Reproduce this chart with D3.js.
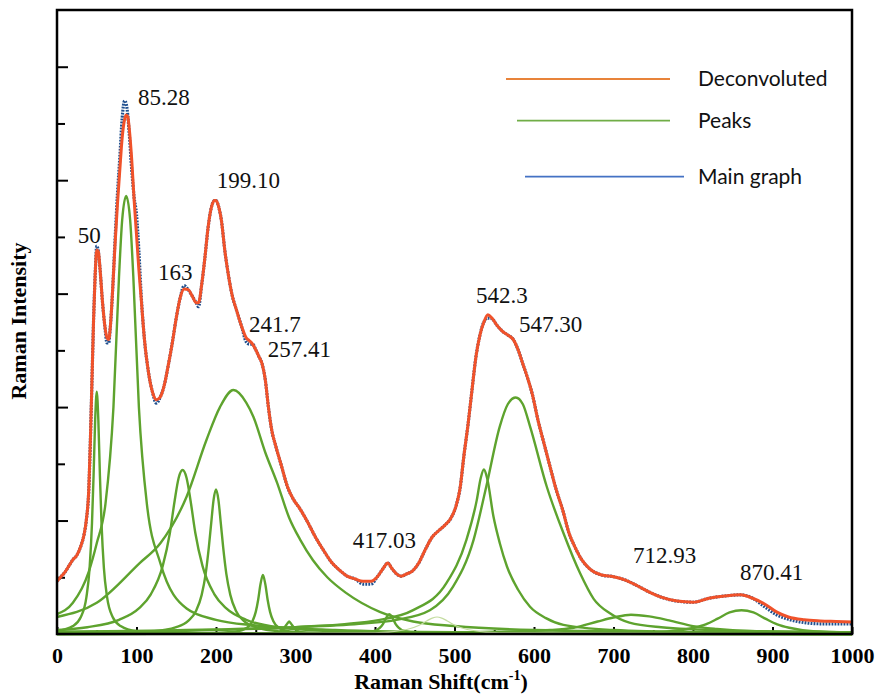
<!DOCTYPE html>
<meta charset="utf-8">
<script src="https://d3js.org/d3.v7.min.js"></script>
<style>
  body { margin: 0; background: #fff; }
  svg text { font-family: "Liberation Serif", "DejaVu Serif", serif; }
  .peak { fill: none; stroke: #5ea32e; stroke-width: 2.4; }
  .label { font-size: 23px; fill: #111; }
  .legend text { font-family: Lato, sans-serif; font-size: 21px; fill: #111; }
</style>
<div id="my_dataviz"></div>
<script>
// Raman shift grid (cm-1) shared by the measured and fitted spectra
var shift = [0,5,10,15,20,25,30,34,37,40,42,44,46,48,50,52,54,57,60,63,
  65,67,70,73,76,79,82,85,87,89,91,94,97,100,103,106,110,115,120,125,
  130,135,140,145,150,155,160,165,170,175,178,182,186,190,194,198,200,203,207,211,
  215,220,226,232,238,242,246,250,254,258,262,266,270,275,282,290,298,305,315,325,
  335,345,355,365,375,385,395,403,410,416,421,427,433,440,447,455,463,472,480,488,
  495,502,507,512,517,522,527,532,537,542,547,553,560,567,574,580,586,592,598,605,
  612,620,628,636,644,652,660,670,685,700,715,730,745,760,780,800,820,840,860,875,
  890,905,920,940,960,980,1000];

// fitted (deconvoluted) envelope
var deconvoluted = [0.93,1.01,1.09,1.20,1.31,1.39,1.55,1.75,2.02,2.55,
  3.42,4.48,5.54,6.33,6.77,6.74,6.46,5.89,5.45,5.22,
  5.19,5.40,6.07,6.86,7.57,8.18,8.75,9.07,9.15,9.12,
  8.89,8.36,7.65,7.04,6.42,5.89,5.19,4.62,4.27,4.13,
  4.18,4.39,4.74,5.13,5.57,5.93,6.08,6.07,5.96,5.84,
  5.84,6.16,6.63,7.16,7.51,7.64,7.64,7.55,7.27,6.77,
  6.38,5.99,5.70,5.43,5.22,5.17,5.11,5.01,4.89,4.76,
  4.48,3.99,3.60,3.32,2.98,2.59,2.36,2.22,1.98,1.71,
  1.48,1.27,1.13,1.02,0.97,0.93,0.93,1.01,1.15,1.25,
  1.16,1.06,1.02,1.06,1.11,1.25,1.48,1.71,1.82,1.92,
  2.03,2.26,2.57,3.16,3.69,4.30,4.89,5.27,5.50,5.63,
  5.57,5.45,5.34,5.27,5.19,5.01,4.76,4.51,4.22,3.77,
  3.39,2.96,2.54,2.19,1.78,1.52,1.31,1.15,1.04,1.01,
  0.95,0.85,0.74,0.65,0.58,0.56,0.63,0.67,0.69,0.63,
  0.53,0.39,0.30,0.25,0.23,0.22,0.21];

// measured spectrum
var mainGraph = [0.93,1.01,1.09,1.20,1.31,1.39,1.55,1.75,2.02,2.55,
  3.42,4.48,5.54,6.33,6.84,6.74,6.46,5.89,5.45,5.13,
  5.13,5.40,6.07,6.95,7.75,8.40,9.10,9.40,9.35,9.15,
  8.80,8.18,7.70,7.40,6.75,5.95,5.19,4.62,4.27,4.07,
  4.18,4.39,4.74,5.13,5.57,5.93,6.14,6.07,5.96,5.84,
  5.77,6.16,6.63,7.16,7.51,7.64,7.64,7.55,7.27,6.77,
  6.38,5.99,5.70,5.43,5.15,5.11,5.11,5.01,4.89,4.76,
  4.48,3.99,3.60,3.32,2.98,2.59,2.36,2.22,1.98,1.71,
  1.48,1.27,1.13,1.02,0.97,0.88,0.88,1.01,1.15,1.25,
  1.16,1.06,1.02,1.06,1.11,1.25,1.48,1.71,1.82,1.92,
  2.03,2.26,2.57,3.16,3.69,4.30,4.89,5.27,5.50,5.57,
  5.56,5.45,5.34,5.27,5.19,5.01,4.76,4.51,4.22,3.77,
  3.39,2.96,2.54,2.19,1.78,1.52,1.31,1.15,1.04,1.01,
  0.95,0.85,0.74,0.65,0.58,0.56,0.63,0.67,0.69,0.63,
  0.48,0.34,0.26,0.20,0.18,0.18,0.18];

// individual fitted peaks, [shift, intensity]
var peak50 = [[0,0.05],[20,0.14],[30,0.30],[37,0.65],[41,1.16],[44,1.95],[46,2.79],[48,3.77],[50,4.27],[52,3.77],[54,2.79],[56,1.95],[59,1.16],[63,0.65],[70,0.30],[80,0.14],[100,0.05],[150,0.015],[300,0.004],[1000,0]];
var peak85 = [[0,0.35],[20,0.55],[40,1.1],[50,1.6],[61,2.3],[71,4.0],[78,6.3],[82,7.3],[87,7.72],[92,7.3],[96,6.3],[103,4.0],[113,2.3],[130,1.25],[163,0.45],[200,0.25],[250,0.15],[350,0.07],[500,0.03],[1000,0.005]];
var peak158 = [[0,0.07],[38,0.12],[78,0.25],[103,0.45],[118,0.7],[133,1.2],[142,1.78],[148,2.35],[153,2.75],[158,2.89],[163,2.75],[168,2.35],[174,1.78],[183,1.2],[198,0.7],[213,0.45],[238,0.25],[278,0.12],[358,0.05],[600,0.01],[1000,0]];
var peak200 = [[0,0.008],[50,0.014],[120,0.047],[150,0.12],[165,0.23],[175,0.41],[182,0.69],[187,1.06],[191,1.53],[194,1.96],[197,2.37],[200,2.55],[203,2.37],[206,1.96],[209,1.53],[213,1.06],[218,0.69],[225,0.41],[235,0.23],[250,0.12],[280,0.047],[350,0.014],[1000,0]];
var peak222 = [[0,0.3],[50,0.55],[104,1.25],[130,1.6],[163,2.42],[188,3.42],[205,4.0],[222,4.30],[238,4.08],[247,3.83],[262,3.2],[277,2.66],[292,2.05],[306,1.66],[322,1.3],[340,1.0],[364,0.72],[406,0.39],[448,0.22],[500,0.14],[600,0.07],[800,0.03],[1000,0.02]];
var peak259 = [[0,0.005],[180,0.008],[224,0.04],[239,0.11],[246,0.23],[250,0.39],[253,0.6],[256,0.88],[259,1.04],[262,0.88],[265,0.6],[268,0.39],[272,0.23],[279,0.11],[294,0.04],[340,0.008],[1000,0]];
var peak292 = [[0,0],[270,0.01],[280,0.04],[286,0.11],[290,0.19],[292,0.22],[294,0.19],[298,0.11],[304,0.04],[315,0.01],[1000,0]];
var peak418 = [[0,0],[378,0.013],[398,0.048],[406,0.108],[410,0.175],[414,0.28],[418,0.35],[422,0.28],[426,0.175],[430,0.108],[438,0.048],[458,0.013],[1000,0]];
var peak478 = [[0,0],[400,0.02],[440,0.08],[455,0.15],[465,0.23],[472,0.28],[478,0.30],[484,0.28],[491,0.23],[501,0.15],[516,0.08],[556,0.02],[1000,0]];
var peak537 = [[0,0.03],[200,0.07],[300,0.12],[406,0.25],[448,0.42],[490,0.9],[515,1.66],[528,2.36],[533,2.75],[537,2.90],[541,2.75],[549,2.07],[557,1.6],[566,1.19],[580,0.78],[595,0.48],[615,0.28],[637,0.16],[700,0.07],[800,0.03],[1000,0.01]];
var peak577 = [[0,0.04],[200,0.08],[300,0.12],[380,0.18],[427,0.25],[469,0.42],[498,0.83],[524,1.66],[540,2.6],[557,3.66],[567,4.05],[577,4.17],[586,4.05],[595,3.66],[616,2.6],[637,1.78],[658,1.07],[675,0.62],[696,0.36],[720,0.2],[760,0.12],[850,0.06],[1000,0.03]];
var peak722 = [[0,0.01],[400,0.02],[550,0.04],[620,0.07],[650,0.11],[680,0.22],[700,0.29],[722,0.34],[745,0.31],[770,0.24],[800,0.14],[830,0.09],[880,0.05],[1000,0.03]];
var peak861 = [[0,0],[600,0.01],[721,0.02],[771,0.05],[801,0.11],[816,0.17],[831,0.27],[846,0.38],[861,0.42],[876,0.38],[891,0.27],[906,0.17],[921,0.11],[951,0.05],[1000,0.03]];

var peaks = [peak50, peak85, peak158, peak200, peak222, peak259, peak292, peak418, peak537, peak577, peak722, peak861];

var peakLabels = ["50", "85.28", "163", "199.10", "241.7", "257.41", "417.03", "542.3", "547.30", "712.93", "870.41"];
var legendNames = ["Deconvoluted", "Peaks", "Main graph"];
var xTicks = [0, 100, 200, 300, 400, 500, 600, 700, 800, 900, 1000];

// set the dimensions and margins of the graph
var margin = {top: 10, right: 28, bottom: 62, left: 57},
    width = 880 - margin.left - margin.right,
    height = 696 - margin.top - margin.bottom;

var svg = d3.select("#my_dataviz")
  .append("svg")
  .attr("width", 880)
  .attr("height", 696)
  .append("g")
  .attr("transform", "translate(" + margin.left + "," + margin.top + ")");

var x = d3.scaleLinear().domain([0, 1000]).range([0, width]);
var y = d3.scaleLinear().domain([0, 11]).range([height, 0]);

var serif = "Liberation Serif";

// x axis: major ticks with labels, minor ticks at the 50s
var xAxis = svg.append("g")
  .attr("transform", "translate(0," + height + ")")
  .call(d3.axisBottom(x).tickValues(xTicks).tickSize(-7).tickPadding(13.5).tickFormat(d3.format("d")));
xAxis.attr("font-family", serif).attr("font-size", 22);
xAxis.selectAll("text")
  .style("font-family", serif)
  .style("font-size", "22px")
  .style("font-weight", "bold")
  .attr("fill", "#000");

svg.append("g")
  .attr("transform", "translate(0," + height + ")")
  .call(d3.axisBottom(x).tickValues(d3.range(50, 1000, 100)).tickSize(-4).tickFormat(""));

// y axis: no labels, long and short ticks alternating
svg.append("g")
  .call(d3.axisLeft(y).tickValues([2, 4, 6, 8, 10]).tickSize(-11).tickFormat(""));
svg.append("g")
  .call(d3.axisLeft(y).tickValues([1, 3, 5, 7, 9]).tickSize(-8).tickFormat(""));

svg.selectAll(".domain").remove();
svg.selectAll(".tick line").attr("stroke", "#000").attr("stroke-width", 2);

var line = d3.line()
  .x(d => x(d[0]))
  .y(d => y(d[1]))
  .curve(d3.curveMonotoneX);

// peaks
svg.append("g")
  .selectAll("path")
  .data(peaks)
  .enter()
  .append("path")
  .attr("class", "peak")
  .attr("d", line);

// faint extra component near 478
svg.append("path")
  .datum(peak478)
  .attr("fill", "none")
  .attr("stroke", "#c4dca0")
  .attr("stroke-width", 1.2)
  .attr("d", line);

// measured spectrum, dotted blue
svg.append("path")
  .datum(shift.map((s, i) => [s, mainGraph[i]]))
  .attr("fill", "none")
  .attr("stroke", "#1f4f8e")
  .attr("stroke-width", 3.2)
  .attr("stroke-dasharray", "1.8,1.2")
  .attr("d", line);

// deconvoluted envelope
svg.append("path")
  .datum(shift.map((s, i) => [s, deconvoluted[i]]))
  .attr("fill", "none")
  .attr("stroke", "#f0522a")
  .attr("stroke-width", 3)
  .attr("d", line);

// frame
svg.append("rect")
  .attr("width", width)
  .attr("height", height)
  .attr("fill", "none")
  .attr("stroke", "#000")
  .attr("stroke-width", 2.5);

// peak labels (left/baseline in data units)
var labelPos = [[26, 6.90], [102, 9.33], [127, 6.24], [201, 7.87], [241.5, 5.33], [265, 4.89],
                [372, 1.52], [527, 5.84], [581, 5.33], [724.5, 1.25], [859, 0.95]];
svg.selectAll(".label")
  .data(peakLabels)
  .enter()
  .append("text")
  .attr("class", "label")
  .attr("font-family", serif)
  .style("font-family", serif)
  .attr("x", (d, i) => x(labelPos[i][0]))
  .attr("y", (d, i) => y(labelPos[i][1]))
  .text(d => d);

// axis titles
var xt = svg.append("text")
  .attr("x", 384)
  .attr("y", height + 55)
  .attr("text-anchor", "middle")
  .style("font-family", serif)
  .style("font-size", "22px")
  .style("font-weight", "bold")
  .text("Raman Shift(cm");
xt.append("tspan").attr("dy", -9).style("font-size", "14px").text("-1");
xt.append("tspan").attr("dy", 9).text(")");

svg.append("text")
  .attr("transform", "translate(-31," + (height / 2 - 1) + ") rotate(-90)")
  .attr("text-anchor", "middle")
  .style("font-family", serif)
  .style("font-size", "22px")
  .style("font-weight", "bold")
  .text("Raman Intensity");

// legend
var legendColors = ["#e8833a", "#70ad47", "#4472c4"];
var legendLines = [[449, 613, 69], [460, 613, 110.7], [468, 627, 166.7]];
var legend = svg.append("g").attr("class", "legend");
legendNames.forEach(function(name, i) {
  legend.append("line")
    .attr("x1", legendLines[i][0]).attr("x2", legendLines[i][1])
    .attr("y1", legendLines[i][2]).attr("y2", legendLines[i][2])
    .attr("stroke", legendColors[i])
    .attr("stroke-width", 1.8);
  legend.append("text")
    .attr("x", 641)
    .attr("y", legendLines[i][2] + 7)
    .text(name);
});
</script>
